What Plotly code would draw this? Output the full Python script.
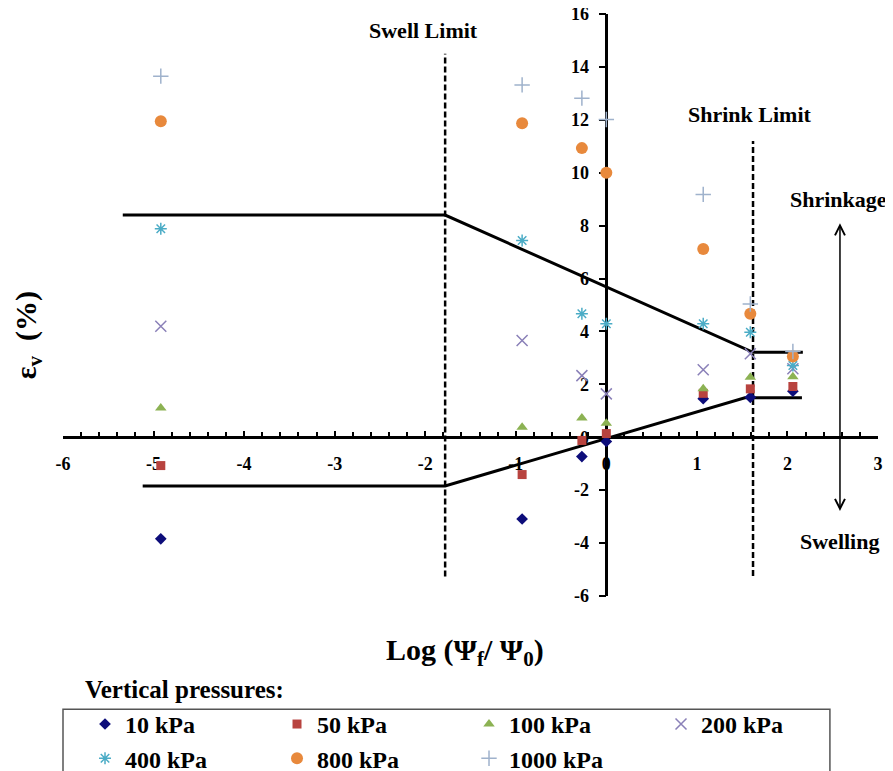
import plotly.graph_objects as go

# ---------------- data ----------------
log_psi_ratio = [-4.92, -0.93, -0.27, 0.0, 1.07, 1.59, 2.06]

eps_10kpa = [-3.84, -3.09, -0.73, -0.16, 1.46, 1.51, 1.74]
eps_50kpa = [-1.07, -1.41, -0.12, 0.14, 1.66, 1.83, 1.92]
eps_100kpa = [1.11, 0.38, 0.73, 0.53, 1.83, 2.27, 2.29]
eps_200kpa = [4.20, 3.66, 2.33, 1.64, 2.55, 3.16, 2.59]
eps_400kpa = [7.88, 7.44, 4.67, 4.29, 4.29, 3.97, 2.71]
eps_800kpa = [11.95, 11.87, 10.93, 10.00, 7.12, 4.67, 3.05]
eps_1000kpa = [13.65, 13.32, 12.82, 12.01, 9.18, 5.04, 3.24]

series_names = ["10 kPa", "50 kPa", "100 kPa", "200 kPa", "400 kPa", "800 kPa", "1000 kPa"]

# envelope lines
upper_x = [-5.34, -1.78, 1.62, 2.17]
upper_y = [8.4, 8.4, 3.21, 3.21]
lower_x = [-5.12, -1.78, 1.53, 2.16]
lower_y = [-1.84, -1.84, 1.49, 1.49]

# limit lines
swell_limit_x = [-1.78, -1.78]
swell_limit_y = [-5.26, 14.5]
shrink_limit_x = [1.62, 1.62]
shrink_limit_y = [-5.24, 11.2]

# ticks
x_tick_vals = [-6, -5, -4, -3, -2, -1, 0, 1, 2, 3]
x_tick_text = ["-6", "-5", "-4", "-3", "-2", "-1", "0", "1", "2", "3"]
y_tick_vals = [-6, -4, -2, 0, 2, 4, 6, 8, 10, 12, 14, 16]
y_tick_text = ["-6", "-4", "-2", "0", "2", "4", "6", "8", "10", "12", "14", "16"]

# ---------------- styling ----------------
FONT = "Liberation Serif"
series_values = [eps_10kpa, eps_50kpa, eps_100kpa, eps_200kpa, eps_400kpa, eps_800kpa, eps_1000kpa]
styles = [
    dict(symbol="diamond", color="#0d0d7a", size=9, line=dict(width=0)),
    dict(symbol="square", color="#b8433f", size=9, line=dict(width=0)),
    dict(symbol="triangle-up", color="#8cb253", size=10, line=dict(width=0)),
    dict(symbol="x-thin-open", color="#8a80b8", size=11, line=dict(width=1.5, color="#8a80b8")),
    dict(symbol="asterisk-open", color="#4bacc6", size=10, line=dict(width=1.5, color="#4bacc6")),
    dict(symbol="circle", color="#e8893c", size=12, line=dict(width=0)),
    dict(symbol="cross-thin-open", color="#9fb2cc", size=11, line=dict(width=1.5, color="#9fb2cc")),
]

fig = go.Figure()

line_style = dict(color="black", width=3)
fig.add_trace(go.Scatter(x=upper_x, y=upper_y, mode="lines", line=line_style,
                         showlegend=False, hoverinfo="skip"))
fig.add_trace(go.Scatter(x=lower_x, y=lower_y, mode="lines", line=line_style,
                         showlegend=False, hoverinfo="skip"))
dash_style = dict(color="black", width=2.5, dash="6px,3px")
fig.add_trace(go.Scatter(x=swell_limit_x, y=swell_limit_y, mode="lines", line=dash_style,
                         showlegend=False, hoverinfo="skip"))
fig.add_trace(go.Scatter(x=shrink_limit_x, y=shrink_limit_y, mode="lines", line=dash_style,
                         showlegend=False, hoverinfo="skip"))

for name, vals, st in zip(series_names, series_values, styles):
    fig.add_trace(go.Scatter(x=log_psi_ratio, y=vals, mode="markers", name=name,
                             marker=st))

# ---------------- axes ----------------
x_min, x_max = -6, 3
y_min, y_max = -6, 16

fig.update_xaxes(
    range=[x_min, x_max], anchor="free", position=(0 - y_min) / (y_max - y_min),
    showline=True, linecolor="black", linewidth=2.5,
    tickvals=x_tick_vals, ticktext=x_tick_text,
    ticks="inside", ticklen=6, tickwidth=2, tickcolor="black",
    minor=dict(dtick=0.2, ticks="inside", ticklen=5, tickwidth=2, tickcolor="black"),
    tickfont=dict(family=FONT, size=18, color="black", weight="bold"),
    ticklabelstandoff=9, ticklabeloverflow="allow",
    showgrid=False, zeroline=False, layer="below traces", automargin=False,
)
fig.update_yaxes(
    range=[y_min, y_max], anchor="free", position=(0 - x_min) / (x_max - x_min),
    showline=True, linecolor="black", linewidth=2.5,
    tickvals=y_tick_vals, ticktext=y_tick_text,
    ticks="outside", ticklen=7, tickwidth=2, tickcolor="black",
    tickfont=dict(family=FONT, size=18, color="black", weight="bold"),
    ticklabelstandoff=6, ticklabeloverflow="allow",
    showgrid=False, zeroline=False, layer="below traces", automargin=False,
)

# ---------------- annotations ----------------
bold = dict(family=FONT, color="black", weight="bold")
ann = []
ann.append(dict(x=-2.02, y=15.38, xref="x", yref="y", text="Swell Limit", showarrow=False,
                xanchor="center", yanchor="middle", font=dict(size=22, **bold)))
ann.append(dict(x=1.59, y=12.2, xref="x", yref="y", text="Shrink Limit", showarrow=False,
                xanchor="center", yanchor="middle", font=dict(size=22, **bold)))
ann.append(dict(x=2.56, y=8.99, xref="x", yref="y", text="Shrinkage", showarrow=False,
                xanchor="center", yanchor="middle", font=dict(size=22, **bold)))
ann.append(dict(x=2.58, y=-3.93, xref="x", yref="y", text="Swelling", showarrow=False,
                xanchor="center", yanchor="middle", font=dict(size=22, **bold)))
# double-headed arrow
ann.append(dict(x=2.58, y=8.09, ax=2.58, ay=-2.84, xref="x", yref="y", axref="x", ayref="y",
                text="", showarrow=True, arrowhead=5, startarrowhead=5, arrowside="end+start",
                arrowwidth=1.5, arrowsize=1.3, startarrowsize=1.3, arrowcolor="black"))
# axis titles
ann.append(dict(x=0.493, y=-0.096, xref="paper", yref="paper", xanchor="center", yanchor="middle",
                text="Log (Ψ<sub>f</sub>/ Ψ<sub>0</sub>)", showarrow=False,
                font=dict(size=30, **bold)))
ann.append(dict(x=-0.043, y=0.448, xref="paper", yref="paper", textangle=-90,
                xanchor="center", yanchor="middle",
                text="ε<sub>v</sub>  (%)", showarrow=False,
                font=dict(size=30, **bold)))
ann.append(dict(x=0.024, y=-0.1615, xref="paper", yref="paper", xanchor="left", yanchor="middle",
                text="Vertical pressures:", showarrow=False,
                font=dict(size=25, **bold)))

# page has an 8px body margin: the figure is shrunk so that the plot area sits
# at the same page pixels as the reference
fig.update_layout(
    width=885, height=763,
    margin=dict(l=55, r=15, t=6, b=175, autoexpand=False),
    paper_bgcolor="white", plot_bgcolor="white",
    annotations=ann,
    shapes=[dict(type="rect", xref="paper", yref="paper", x0=0.0, x1=0.941,
                 y0=-0.32, y1=-0.1947, line=dict(color="#555555", width=1.5))],
    legend=dict(orientation="h", x=0.027, y=-0.182, xanchor="left", yanchor="top",
                entrywidth=147, entrywidthmode="pixels",
                font=dict(size=24, **bold), bgcolor="rgba(0,0,0,0)", borderwidth=0,
                tracegroupgap=0),
    showlegend=True,
)

fig.write_html("out.html")
